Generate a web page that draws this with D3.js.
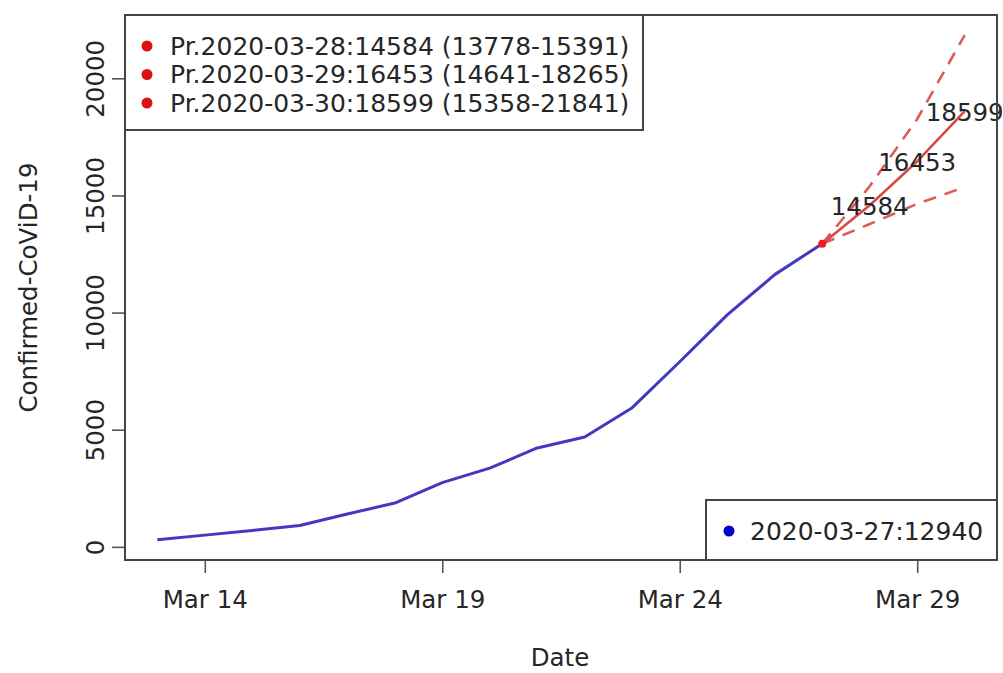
<!DOCTYPE html>
<html>
<head>
<meta charset="utf-8">
<script src="https://cdn.jsdelivr.net/npm/d3@7"></script>
<style>
  html, body { margin: 0; padding: 0; background: #fff; }
  svg { display: block; font-family: 'DejaVu Sans', sans-serif; }
</style>
</head>
<body>
<svg id="chart" width="1003" height="673"></svg>
<script>
// observed series, one value per day
const dates = ['2020-03-13', '2020-03-14', '2020-03-15', '2020-03-16', '2020-03-17',
  '2020-03-18', '2020-03-19', '2020-03-20', '2020-03-21', '2020-03-22',
  '2020-03-23', '2020-03-24', '2020-03-25', '2020-03-26', '2020-03-27'];
const confirmed = [300, 500, 700, 910, 1400, 1870, 2740, 3360, 4220, 4690,
  5940, 7900, 9900, 11620, 12940];

// forecast (starts from the last observed day)
const fcDates = ['2020-03-28', '2020-03-29', '2020-03-30'];
const fcMean = [14584, 16453, 18599];
const fcLow = [13778, 14641, 15358];
const fcHigh = [15391, 18265, 21841];

const xTicks = ['2020-03-14', '2020-03-19', '2020-03-24', '2020-03-29'];
const yTicks = [0, 5000, 10000, 15000, 20000];

const parse = d3.utcParse('%Y-%m-%d');
const fmtTick = d3.utcFormat('%b %d');

/** plot region, as R draws its box */
const box = {left: 125, top: 15, right: 997, bottom: 560};
const fontSize = 24.5;
const legendFont = 25;
const ink = '#262626';

const svg = d3.select('#chart');

// R style 4% padding of the data range
const allX = dates.concat(fcDates).map(parse);
const xExt = d3.extent(allX);
const xPad = (xExt[1] - xExt[0]) * 0.04;
const x = d3.scaleUtc()
    .domain([new Date(+xExt[0] - xPad), new Date(+xExt[1] + xPad)])
    .range([box.left, box.right]);

const yMin = d3.min(confirmed);
const yMax = d3.max(fcHigh);
const yPad = (yMax - yMin) * 0.04;
const y = d3.scaleLinear()
    .domain([yMin - yPad, yMax + yPad])
    .range([box.bottom, box.top]);

// axes
const xAxis = svg.append('g')
    .attr('transform', `translate(0,${box.bottom})`)
    .call(d3.axisBottom(x)
        .tickValues(xTicks.map(parse))
        .tickFormat((d) => fmtTick(d).replace(' 0', ' '))
        .tickSize(13)
        .tickPadding(18));
xAxis.select('.domain').remove();
xAxis.selectAll('line').attr('stroke', '#555').attr('stroke-width', 1.6);
xAxis.selectAll('text')
    .attr('fill', ink)
    .attr('font-size', fontSize)
    .attr('font-family', 'DejaVu Sans, sans-serif');

const yAxis = svg.append('g')
    .attr('transform', `translate(${box.left},0)`)
    .call(d3.axisLeft(y)
        .tickValues(yTicks)
        .tickFormat(d3.format('d'))
        .tickSize(13));
yAxis.select('.domain').remove();
yAxis.selectAll('line').attr('stroke', '#555').attr('stroke-width', 1.6);
yAxis.selectAll('text')
    .attr('fill', ink)
    .attr('font-size', fontSize)
    .attr('font-family', 'DejaVu Sans, sans-serif')
    .attr('x', null)
    .attr('dy', null)
    .attr('text-anchor', 'middle')
    .attr('dominant-baseline', 'central')
    .attr('transform', 'translate(-30,0) rotate(-90)');

// axis titles
svg.append('text')
    .attr('x', (box.left + box.right) / 2 - 1)
    .attr('y', 657)
    .attr('text-anchor', 'middle')
    .attr('dominant-baseline', 'central')
    .attr('font-size', fontSize)
    .attr('fill', ink)
    .text('Date');

svg.append('text')
    .attr('transform', `translate(28,${(box.top + box.bottom) / 2}) rotate(-90)`)
    .attr('text-anchor', 'middle')
    .attr('dominant-baseline', 'central')
    .attr('font-size', fontSize)
    .attr('fill', ink)
    .text('Confirmed-CoViD-19');

// observed line
const line = d3.line()
    .x((d) => x(d.date))
    .y((d) => y(d.value));

const observed = dates.map((d, i) => ({date: parse(d), value: confirmed[i]}));
const last = observed[observed.length - 1];

svg.append('path')
    .datum(observed)
    .attr('fill', 'none')
    .attr('stroke', '#4338c0')
    .attr('stroke-width', 3)
    .attr('stroke-linejoin', 'round')
    .attr('d', line);

// forecast lines
const fcSeries = (vals) => [last].concat(fcDates.map((d, i) => ({date: parse(d), value: vals[i]})));

[fcLow, fcHigh].forEach((vals) => {
  svg.append('path')
      .datum(fcSeries(vals))
      .attr('fill', 'none')
      .attr('stroke', '#e05a5a')
      .attr('stroke-width', 2.6)
      .attr('stroke-dasharray', '13,9')
      .attr('d', line);
});

svg.append('path')
    .datum(fcSeries(fcMean))
    .attr('fill', 'none')
    .attr('stroke', '#d84848')
    .attr('stroke-width', 2.6)
    .attr('d', line);

svg.append('circle')
    .attr('cx', x(last.date))
    .attr('cy', y(last.value))
    .attr('r', 4)
    .attr('fill', '#ee1c1c');

// value labels on the forecast points
svg.append('g')
    .selectAll('text')
    .data(fcSeries(fcMean).slice(1))
    .join('text')
    .attr('x', (d) => x(d.date))
    .attr('y', (d) => y(d.value) + 1)
    .attr('text-anchor', 'middle')
    .attr('dominant-baseline', 'central')
    .attr('font-size', fontSize)
    .attr('fill', ink)
    .text((d) => d.value);

// plot box
svg.append('rect')
    .attr('x', box.left)
    .attr('y', box.top)
    .attr('width', box.right - box.left)
    .attr('height', box.bottom - box.top)
    .attr('fill', 'none')
    .attr('stroke', '#444')
    .attr('stroke-width', 2);

// forecast legend, top left
const legTop = svg.append('g');
legTop.append('rect')
    .attr('x', box.left)
    .attr('y', box.top)
    .attr('width', 518)
    .attr('height', 115)
    .attr('fill', '#fff')
    .attr('stroke', '#444')
    .attr('stroke-width', 2);
const legRows = legTop.selectAll('g')
    .data(fcDates)
    .join('g')
    .attr('transform', (d, i) => `translate(0,${46 + i * 28.5})`);
legRows.append('circle')
    .attr('cx', 147)
    .attr('r', 5.5)
    .attr('fill', '#dd1111');
legRows.append('text')
    .attr('x', 170)
    .attr('dominant-baseline', 'central')
    .attr('font-size', legendFont)
    .attr('fill', ink)
    .text((d, i) => `Pr.${d}:${fcMean[i]} (${fcLow[i]}-${fcHigh[i]})`);

// last observed legend, bottom right
const legBot = svg.append('g');
legBot.append('rect')
    .attr('x', 706)
    .attr('y', 500)
    .attr('width', box.right - 706)
    .attr('height', box.bottom - 500)
    .attr('fill', '#fff')
    .attr('stroke', '#444')
    .attr('stroke-width', 2);
legBot.append('circle')
    .attr('cx', 729)
    .attr('cy', 531)
    .attr('r', 5.5)
    .attr('fill', '#0000cc');
legBot.append('text')
    .attr('x', 750)
    .attr('y', 531)
    .attr('dominant-baseline', 'central')
    .attr('font-size', legendFont)
    .attr('fill', ink)
    .text(`${dates[dates.length - 1]}:${last.value}`);
</script>
</body>
</html>
